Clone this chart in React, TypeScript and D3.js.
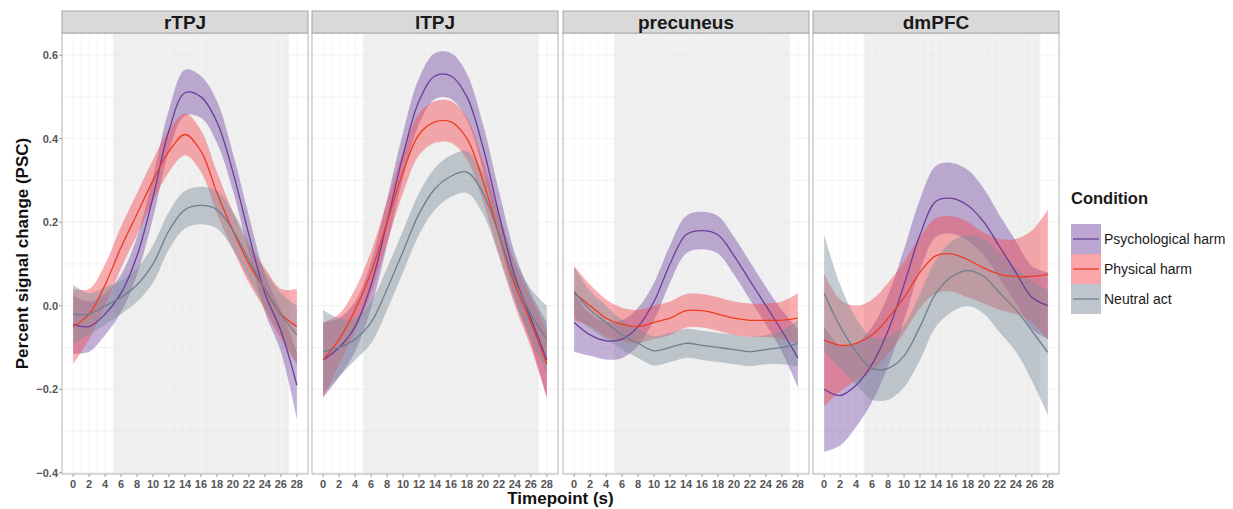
import { useEffect, useRef } from 'react';
import * as d3 from 'd3';

const timepoints = [0, 2, 4, 6, 8, 10, 12, 14, 16, 18, 20, 22, 24, 26, 28];
const regions = ['rTPJ', 'lTPJ', 'precuneus', 'dmPFC'];
const conditions = ['Psychological harm', 'Physical harm', 'Neutral act'];
const yTicks = [-0.4, -0.2, 0.0, 0.2, 0.4, 0.6];
const xTicks = timepoints;

// mean and half-width of the ribbon, per region / condition
const rtpjPsychMean = [-0.045, -0.05, -0.02, 0.03, 0.12, 0.26, 0.42, 0.51, 0.5, 0.44, 0.32, 0.17, 0.03, -0.06, -0.19];
const rtpjPsychHalf = [0.07, 0.06, 0.05, 0.045, 0.045, 0.05, 0.05, 0.055, 0.05, 0.05, 0.045, 0.045, 0.045, 0.05, 0.08];
const rtpjPhysMean = [-0.05, -0.02, 0.05, 0.14, 0.22, 0.3, 0.37, 0.41, 0.37, 0.27, 0.18, 0.1, 0.04, -0.02, -0.05];
const rtpjPhysHalf = [0.09, 0.06, 0.05, 0.05, 0.05, 0.05, 0.05, 0.05, 0.05, 0.05, 0.045, 0.045, 0.05, 0.06, 0.09];
const rtpjNeutMean = [-0.02, -0.02, 0.0, 0.02, 0.05, 0.1, 0.18, 0.23, 0.24, 0.23, 0.18, 0.11, 0.04, -0.02, -0.07];
const rtpjNeutHalf = [0.07, 0.05, 0.045, 0.04, 0.04, 0.045, 0.045, 0.045, 0.045, 0.045, 0.045, 0.045, 0.045, 0.05, 0.07];

const ltpjPsychMean = [-0.13, -0.1, -0.05, 0.05, 0.2, 0.36, 0.49, 0.55, 0.55, 0.5, 0.38, 0.22, 0.07, -0.03, -0.13];
const ltpjPsychHalf = [0.09, 0.07, 0.06, 0.055, 0.055, 0.055, 0.055, 0.055, 0.055, 0.055, 0.055, 0.055, 0.055, 0.06, 0.09];
const ltpjPhysMean = [-0.13, -0.08, -0.01, 0.08, 0.2, 0.32, 0.41, 0.44, 0.44, 0.4, 0.3, 0.17, 0.05, -0.04, -0.14];
const ltpjPhysHalf = [0.09, 0.06, 0.05, 0.05, 0.05, 0.05, 0.05, 0.05, 0.05, 0.05, 0.05, 0.05, 0.05, 0.06, 0.08];
const ltpjNeutMean = [-0.11, -0.1, -0.08, -0.04, 0.04, 0.13, 0.22, 0.28, 0.31, 0.32, 0.27, 0.17, 0.06, -0.02, -0.08];
const ltpjNeutHalf = [0.1, 0.07, 0.05, 0.05, 0.05, 0.05, 0.05, 0.05, 0.05, 0.05, 0.05, 0.05, 0.05, 0.06, 0.08];

const precPsychMean = [-0.04, -0.07, -0.084, -0.08, -0.05, 0.01, 0.1, 0.17, 0.18, 0.17, 0.12, 0.06, 0.0, -0.06, -0.125];
const precPsychHalf = [0.07, 0.05, 0.045, 0.045, 0.045, 0.045, 0.045, 0.045, 0.045, 0.045, 0.045, 0.045, 0.045, 0.05, 0.07];
const precPhysMean = [0.03, 0.0, -0.03, -0.045, -0.05, -0.04, -0.03, -0.012, -0.012, -0.02, -0.03, -0.035, -0.035, -0.035, -0.03];
const precPhysHalf = [0.065, 0.05, 0.045, 0.04, 0.04, 0.04, 0.04, 0.04, 0.04, 0.04, 0.04, 0.04, 0.04, 0.045, 0.06];
const precNeutMean = [0.034, -0.01, -0.04, -0.07, -0.09, -0.108, -0.1, -0.09, -0.095, -0.1, -0.105, -0.11, -0.105, -0.1, -0.09];
const precNeutHalf = [0.06, 0.045, 0.04, 0.035, 0.035, 0.035, 0.035, 0.035, 0.035, 0.035, 0.035, 0.035, 0.035, 0.04, 0.055];

const dmpfcPsychMean = [-0.2, -0.215, -0.19, -0.14, -0.06, 0.05, 0.17, 0.25, 0.257, 0.24, 0.2, 0.14, 0.08, 0.02, 0.0];
const dmpfcPsychHalf = [0.15, 0.12, 0.1, 0.09, 0.085, 0.085, 0.085, 0.085, 0.085, 0.085, 0.08, 0.075, 0.075, 0.075, 0.08];
const dmpfcPhysMean = [-0.082, -0.095, -0.09, -0.07, -0.03, 0.02, 0.08, 0.12, 0.124, 0.11, 0.09, 0.075, 0.07, 0.07, 0.075];
const dmpfcPhysHalf = [0.16, 0.11, 0.09, 0.085, 0.085, 0.085, 0.085, 0.09, 0.09, 0.09, 0.085, 0.085, 0.09, 0.11, 0.155];
const dmpfcNeutMean = [0.03, -0.05, -0.11, -0.15, -0.15, -0.12, -0.05, 0.03, 0.07, 0.084, 0.07, 0.03, -0.01, -0.06, -0.112];
const dmpfcNeutHalf = [0.14, 0.1, 0.08, 0.075, 0.075, 0.075, 0.08, 0.08, 0.085, 0.085, 0.09, 0.095, 0.1, 0.12, 0.15];

const means = [
  [rtpjPsychMean, rtpjPhysMean, rtpjNeutMean],
  [ltpjPsychMean, ltpjPhysMean, ltpjNeutMean],
  [precPsychMean, precPhysMean, precNeutMean],
  [dmpfcPsychMean, dmpfcPhysMean, dmpfcNeutMean],
];
const halves = [
  [rtpjPsychHalf, rtpjPhysHalf, rtpjNeutHalf],
  [ltpjPsychHalf, ltpjPhysHalf, ltpjNeutHalf],
  [precPsychHalf, precPhysHalf, precNeutHalf],
  [dmpfcPsychHalf, dmpfcPhysHalf, dmpfcNeutHalf],
];

const LINE_COLORS = ['#6a3d9a', '#f03b20', '#6e7f8d'];
const BAND_COLORS = ['#7b4fa6', '#f64c55', '#7f8e9c'];
const BAND_OPACITY = 0.45;

const W = 1233;
const H = 509;
const FONT = '"Liberation Sans", Arial, Helvetica, sans-serif';

export default function App() {
  const svgRef = useRef<SVGSVGElement>(null);

  useEffect(() => {
    if (!svgRef.current) return;
    const svg = d3.select(svgRef.current);
    svg.selectAll('*').remove();

    const panelLefts = [62, 312, 563, 813];
    const panelW = 246;
    const stripTop = 11;
    const stripH = 22;
    const plotTop = stripTop + stripH;
    const plotBottom = 474;

    const y = d3.scaleLinear().domain([-0.403, 0.653]).range([plotBottom, plotTop]);

    regions.forEach((region, ri) => {
      const left = panelLefts[ri];
      const x = d3.scaleLinear().domain([-1.4, 29.4]).range([left, left + panelW]);
      const g = svg.append('g');

      g.append('rect')
        .attr('x', left).attr('y', plotTop)
        .attr('width', panelW).attr('height', plotBottom - plotTop)
        .attr('fill', '#ffffff');

      // stimulus period shading
      g.append('rect')
        .attr('x', x(5)).attr('y', plotTop)
        .attr('width', x(27) - x(5)).attr('height', plotBottom - plotTop)
        .attr('fill', '#efefef');

      // grid
      d3.range(-0.4, 0.65, 0.1).forEach(v => {
        g.append('line')
          .attr('x1', left).attr('x2', left + panelW)
          .attr('y1', y(v)).attr('y2', y(v))
          .attr('stroke', '#e6e6e6').attr('stroke-width', 0.6).attr('opacity', 0.8);
      });
      d3.range(0, 29, 1).forEach(t => {
        g.append('line')
          .attr('x1', x(t)).attr('x2', x(t))
          .attr('y1', plotTop).attr('y2', plotBottom)
          .attr('stroke', t >= 5 && t <= 27 ? '#f7f7f7' : '#f0f0f0')
          .attr('stroke-width', 0.6);
      });

      // ribbons
      conditions.forEach((c, ci) => {
        const half = halves[ri][ci];
        const area = d3.area<number>()
          .x((d, i) => x(timepoints[i]))
          .y0((d, i) => y(d - half[i]))
          .y1((d, i) => y(d + half[i]))
          .curve(d3.curveCatmullRom.alpha(0.5));
        g.append('path')
          .datum(means[ri][ci])
          .attr('d', area)
          .attr('fill', BAND_COLORS[ci])
          .attr('opacity', BAND_OPACITY);
      });

      // lines
      const line = d3.line<number>()
        .x((d, i) => x(timepoints[i]))
        .y(d => y(d))
        .curve(d3.curveCatmullRom.alpha(0.5));
      conditions.forEach((c, ci) => {
        g.append('path')
          .datum(means[ri][ci])
          .attr('d', line)
          .attr('fill', 'none')
          .attr('stroke', LINE_COLORS[ci])
          .attr('stroke-width', 1.3);
      });

      // panel border
      g.append('rect')
        .attr('x', left).attr('y', plotTop)
        .attr('width', panelW).attr('height', plotBottom - plotTop)
        .attr('fill', 'none').attr('stroke', '#b3b3b3').attr('stroke-width', 1);

      // strip
      g.append('rect')
        .attr('x', left).attr('y', stripTop)
        .attr('width', panelW).attr('height', stripH)
        .attr('fill', '#d9d9d9').attr('stroke', '#a6a6a6').attr('stroke-width', 1);
      g.append('text')
        .attr('x', left + panelW / 2).attr('y', stripTop + 17.5)
        .attr('text-anchor', 'middle')
        .attr('font-family', FONT).attr('font-weight', 'bold').attr('font-size', 19)
        .attr('fill', '#1a1a1a')
        .text(region);

      // x axis
      xTicks.forEach(t => {
        g.append('line')
          .attr('x1', x(t)).attr('x2', x(t))
          .attr('y1', plotBottom).attr('y2', plotBottom + 3)
          .attr('stroke', '#999');
        g.append('text')
          .attr('x', x(t)).attr('y', plotBottom + 14)
          .attr('text-anchor', 'middle')
          .attr('font-family', FONT).attr('font-size', 11).attr('font-weight', 'bold')
          .attr('fill', '#555')
          .text(t);
      });
    });

    // y axis
    const yAxisX = panelLefts[0];
    yTicks.forEach(v => {
      svg.append('line')
        .attr('x1', yAxisX - 3).attr('x2', yAxisX)
        .attr('y1', y(v)).attr('y2', y(v))
        .attr('stroke', '#999');
      svg.append('text')
        .attr('x', yAxisX - 4).attr('y', y(v) + 4)
        .attr('text-anchor', 'end')
        .attr('font-family', FONT).attr('font-size', 11).attr('font-weight', 'bold')
        .attr('fill', '#555')
        .text(d3.format('.1f')(v));
    });

    // axis titles
    svg.append('text')
      .attr('transform', `translate(28, ${(plotTop + plotBottom) / 2}) rotate(-90)`)
      .attr('text-anchor', 'middle')
      .attr('font-family', FONT).attr('font-weight', 'bold').attr('font-size', 17)
      .attr('fill', '#111')
      .text('Percent signal change (PSC)');
    svg.append('text')
      .attr('x', (panelLefts[0] + panelLefts[3] + panelW) / 2).attr('y', 504)
      .attr('text-anchor', 'middle')
      .attr('font-family', FONT).attr('font-weight', 'bold').attr('font-size', 17)
      .attr('fill', '#111')
      .text('Timepoint (s)');

    // legend
    const legend = svg.append('g').attr('transform', 'translate(1071, 0)');
    legend.append('text')
      .attr('x', 0).attr('y', 204)
      .attr('font-family', FONT).attr('font-weight', 'bold').attr('font-size', 16.5)
      .attr('fill', '#1a1a1a')
      .text('Condition');
    conditions.forEach((c, ci) => {
      const ky = 224 + ci * 30;
      legend.append('rect')
        .attr('x', 0).attr('y', ky).attr('width', 30).attr('height', 30)
        .attr('fill', BAND_COLORS[ci]).attr('opacity', BAND_OPACITY + 0.05);
      legend.append('line')
        .attr('x1', 2).attr('x2', 28).attr('y1', ky + 15).attr('y2', ky + 15)
        .attr('stroke', LINE_COLORS[ci]).attr('stroke-width', 1.3);
      legend.append('text')
        .attr('x', 33).attr('y', ky + 20)
        .attr('font-family', FONT).attr('font-size', 14)
        .attr('fill', '#1a1a1a')
        .text(c);
    });
  }, []);

  return (
    <svg
      ref={svgRef}
      width={W}
      height={H}
      style={{ position: 'absolute', left: 0, top: 0, background: '#fff' }}
    />
  );
}
